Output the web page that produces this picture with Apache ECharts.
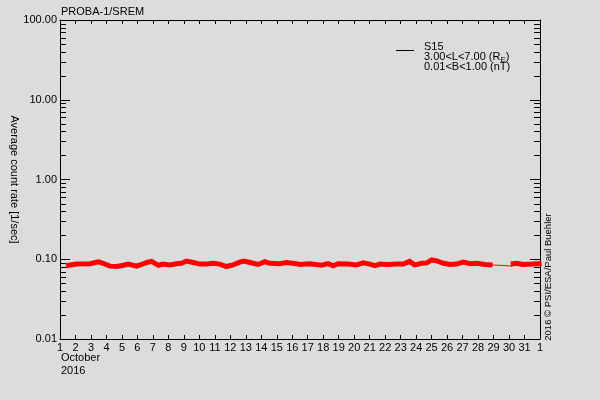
<!DOCTYPE html>
<html>
<head>
<meta charset="utf-8">
<script src="https://cdn.jsdelivr.net/npm/echarts@6/dist/echarts.min.js"></script>
<style>
html,body{margin:0;padding:0;background:#dcdcdc;}
#main{width:600px;height:400px;}
</style>
</head>
<body>
<div id="main"></div>
<script>
// 数据
var dayA = [1.54,2.07,2.94,3.48,3.78,4.23,4.66,5.09,5.41,5.95,6.27,6.6,6.92,7.35,7.66,8.1,8.53,8.85,9.17,9.6,10.03,10.46,10.89,11.32,11.75,12.18,12.61,12.87,13.26,13.8,14.23,14.55,15.19,15.63,16.27,16.48,17.13,17.88,18.31,18.64,18.96,19.61,20.15,20.58,21.0,21.35,21.67,22.1,22.75,23.18,23.57,23.9,24.37,24.7,25.0,25.3,25.76,26.2,26.6,27.05,27.5,27.9,28.45,28.77];
var rateA = [0.084,0.087,0.088,0.093,0.089,0.082,0.081,0.084,0.087,0.082,0.086,0.091,0.094,0.084,0.087,0.085,0.088,0.089,0.095,0.091,0.087,0.087,0.089,0.087,0.081,0.085,0.092,0.095,0.091,0.086,0.093,0.089,0.088,0.091,0.088,0.086,0.088,0.084,0.088,0.083,0.088,0.087,0.085,0.090,0.087,0.083,0.087,0.086,0.087,0.087,0.094,0.085,0.089,0.090,0.098,0.096,0.089,0.086,0.087,0.092,0.088,0.089,0.086,0.085];
var dayGap = [28.77,29.45,29.48,30.22,30.27];
var rateGap = [0.085,0.084,0.082,0.082,0.088];
var dayB = [30.27,30.5,30.9,31.55,31.94];
var rateB = [0.088,0.089,0.086,0.087,0.088];
var yTicks = [0.01,0.1,1,10,100];
var minorK = [2,3,4,5,6,7,8,9];

var FONT = 'Liberation Sans';

function pairs(xs, ys){
    var out = [];
    for(var i=0;i<xs.length;i++){
        out.push([xs[i], ys[i]]);
    }
    return out;
}

var chart = echarts.init(document.getElementById('main'));

var lineAxis = {show:true, lineStyle:{color:'#000', width:1}};
var xTick = {show:true, inside:true, length:4, interval:0, lineStyle:{color:'#000'}};
var yTick = {show:true, inside:true, length:10, lineStyle:{color:'#000'}};

var option = {
    backgroundColor: '#dcdcdc',
    animation: false,
    grid: {left:60, right:60, top:20, bottom:61, containLabel:false, outerBoundsMode:'none'},
    xAxis: [
        {
            type:'value', position:'bottom', min:1, max:32, interval:1,
            axisLine: lineAxis, axisTick: xTick, splitLine:{show:false},
            axisLabel:{
                color:'#000', fontFamily:FONT, fontSize:11, margin:3,
                showMinLabel:true, showMaxLabel:true,
                formatter:function(v){ return v === 32 ? '1' : String(v); }
            }
        },
        {
            type:'value', position:'top', min:1, max:32, interval:1,
            axisLine: lineAxis, axisTick: xTick, splitLine:{show:false},
            axisLabel:{show:false}
        }
    ],
    yAxis: [
        {
            type:'log', logBase:10, position:'left', min:yTicks[0], max:yTicks[yTicks.length-1],
            axisLine: lineAxis, axisTick: yTick, splitLine:{show:false},
            axisLabel:{
                color:'#000', fontFamily:FONT, fontSize:11, margin:3,
                formatter:function(v){ return Number(v).toFixed(2); }
            },
            name:'Average count rate [1/sec]', nameLocation:'middle', nameRotate:-90, nameGap:40,
            nameMoveOverlap:false,
            nameTextStyle:{color:'#000', fontFamily:FONT, fontSize:11}
        },
        {
            type:'log', logBase:10, position:'right', min:yTicks[0], max:yTicks[yTicks.length-1],
            axisLine: lineAxis, axisTick: yTick, splitLine:{show:false},
            axisLabel:{show:false}
        }
    ],
    series: [
        {
            type:'line', data:pairs(dayA, rateA), symbol:'none',
            lineStyle:{color:'#ff0000', width:5, cap:'square', join:'miter'}
        },
        {
            type:'line', data:pairs(dayGap, rateGap), symbol:'none',
            lineStyle:{color:'#ff0000', width:1}
        },
        {
            type:'line', data:pairs(dayB, rateB), symbol:'none',
            lineStyle:{color:'#ff0000', width:5, cap:'square', join:'miter'}
        }
    ]
};
chart.setOption(option);

// 文字和图例
var txt = {fill:'#000', fontFamily:FONT, fontSize:11};
function $ext(o){
    var r = {};
    for(var k in txt){ r[k] = txt[k]; }
    for(var k2 in o){ r[k2] = o[k2]; }
    return r;
}

var graphics = [
    {type:'text', left:61, top:6, style:$ext({text:'PROBA-1/SREM'})},
    {type:'text', left:61, top:352, style:$ext({text:'October'})},
    {type:'text', left:61, top:365, style:$ext({text:'2016'})},
    {type:'text', x:548, y:277, rotation:Math.PI/2,
        style:$ext({text:'2016 © PSI/ESA/Paul Buehler', fontSize:9.5, align:'center', verticalAlign:'middle'})},
    {type:'line', shape:{x1:396, y1:50.5, x2:414, y2:50.5}, style:{stroke:'#000', lineWidth:1}},
    {type:'text', x:424, y:47, style:$ext({text:'S15', verticalAlign:'middle'})},
    {type:'text', x:424, y:57, style:$ext({
        text:'{a|3.00<L<7.00 (R}{s|E}{a|)}', verticalAlign:'middle',
        rich:{a:{fontFamily:FONT, fontSize:11, fill:'#000'}, s:{fontFamily:FONT, fontSize:8, fill:'#000', padding:[5,0,0,0]}}
    })},
    {type:'text', x:424, y:67, style:$ext({text:'0.01<B<1.00 (nT)', verticalAlign:'middle'})}
];

// 对数轴小刻度
var xl = chart.convertToPixel({xAxisIndex:0}, 1);
var xr = chart.convertToPixel({xAxisIndex:0}, 32);
for(var d=0; d<yTicks.length-1; d++){
    for(var m=0; m<minorK.length; m++){
        var v = yTicks[d]*minorK[m];
        var py = Math.round(chart.convertToPixel({yAxisIndex:0}, v)) + 0.5;
        graphics.push({type:'line', shape:{x1:xl, y1:py, x2:xl+6, y2:py}, style:{stroke:'#000', lineWidth:1}});
        graphics.push({type:'line', shape:{x1:xr, y1:py, x2:xr-6, y2:py}, style:{stroke:'#000', lineWidth:1}});
    }
}
chart.setOption({graphic: graphics});
</script>
</body>
</html>
